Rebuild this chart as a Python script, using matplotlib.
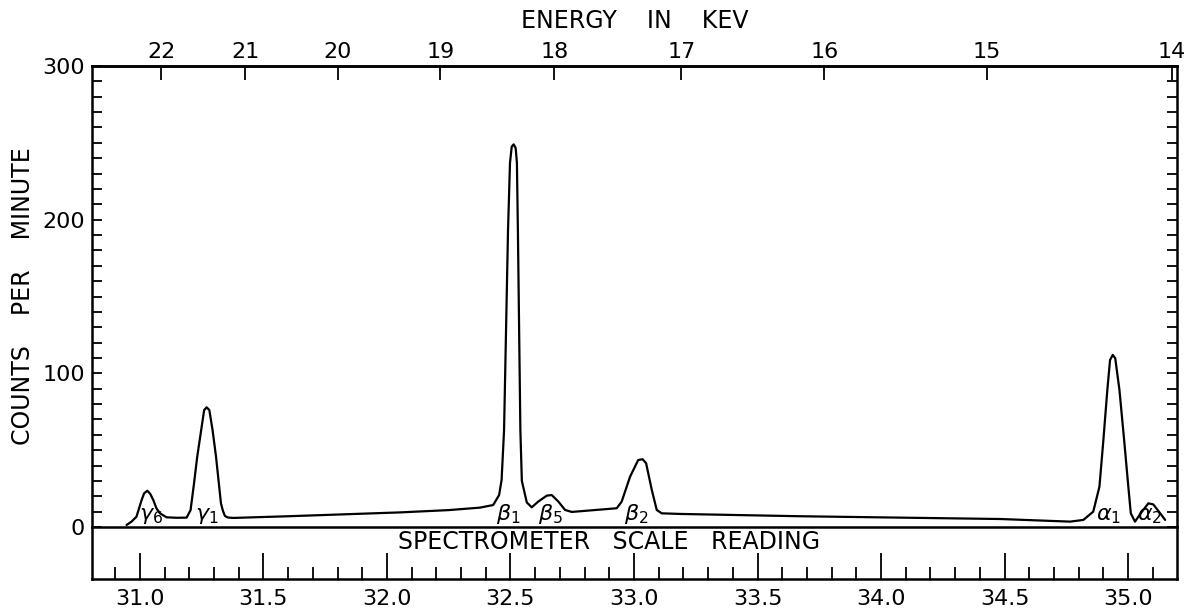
import numpy as np
import matplotlib
matplotlib.use("Agg")
import matplotlib.pyplot as plt
from matplotlib.ticker import MultipleLocator, FormatStrFormatter, NullLocator

# Spectrometer scale reading (abscissa) and counting rate along the traced curve
scale_reading = [
    30.946, 30.966, 30.986, 31.007, 31.017, 31.030, 31.042, 31.054, 31.067,
    31.081, 31.108, 31.150, 31.189, 31.205, 31.219, 31.232, 31.248, 31.260,
    31.270, 31.281, 31.294, 31.308, 31.318, 31.328, 31.336, 31.344, 31.355,
    31.378, 31.600, 32.053, 32.250, 32.376, 32.430, 32.454, 32.464, 32.474,
    32.482, 32.490, 32.498, 32.505, 32.513, 32.521, 32.526, 32.530, 32.535,
    32.540, 32.546, 32.566, 32.586, 32.612, 32.647, 32.667, 32.694, 32.721,
    32.748, 32.930, 32.950, 32.984, 33.017, 33.035, 33.049, 33.072, 33.092,
    33.112, 33.186, 33.672, 34.482, 34.765, 34.819, 34.859, 34.884, 34.900,
    34.916, 34.927, 34.938, 34.948, 34.965, 34.984, 35.001, 35.011, 35.028,
    35.051, 35.082, 35.102, 35.130, 35.150,
]
counts_per_minute = [
    1.3, 3.5, 6.7, 17.6, 21.9, 23.6, 21.5, 17.6, 12.1,
    8.9, 6.3, 6.0, 6.1, 11.0, 28.4, 45.8, 63.1, 76.1,
    77.9, 76.1, 63.1, 45.8, 30.6, 15.4, 10.5, 7.2, 6.2,
    5.9, 7.0, 9.5, 11.0, 12.6, 14.3, 20.8, 30.6, 63.0,
    128.0, 193.0, 237.0, 247.5, 249.0, 246.5, 237.0, 193.0, 128.0,
    63.0, 30.0, 16.0, 12.8, 16.5, 20.4, 20.8, 16.5, 11.1,
    9.8, 12.2, 16.5, 32.7, 43.6, 44.1, 41.5, 24.1, 11.1,
    8.9, 8.5, 7.0, 5.2, 3.5, 4.6, 10.0, 26.2, 56.6,
    89.2, 108.7, 112.0, 109.8, 89.2, 56.6, 26.2, 8.9, 3.5,
    8.9, 15.4, 14.7, 8.9, 4.6,
]

# Line identifications and where they sit along the scale
line_names = [r"$\gamma_6$", r"$\gamma_1$", r"$\beta_1$", r"$\beta_5$",
              r"$\beta_2$", r"$\alpha_1$", r"$\alpha_2$"]
line_positions = [31.045, 31.27, 32.49, 32.66, 33.01, 34.92, 35.085]

# Energy scale along the top (keV)
energy_ticks = [22, 21, 20, 19, 18, 17, 16, 15, 14]

# Calibration of scale reading against photon energy: reading = A + B / E
CAL_A = 23.927
CAL_B = 157.5


def reading_to_energy(s):
    s = np.asarray(s, dtype=float)
    with np.errstate(divide="ignore", invalid="ignore"):
        return CAL_B / (s - CAL_A)


def energy_to_reading(e):
    e = np.asarray(e, dtype=float)
    with np.errstate(divide="ignore", invalid="ignore"):
        return CAL_A + CAL_B / e


plt.rcParams["font.family"] = ["DejaVu Sans"]
plt.rcParams["mathtext.fontset"] = "dejavusans"

W, H = 1197, 611
fig = plt.figure(figsize=(W / 100, H / 100), dpi=100)

x_lo, x_hi = 30.806, 35.198
ax_left, ax_right = 92 / W, 1177 / W
main_bottom, main_top = 1 - 527 / H, 1 - 66 / H
box_bottom = 1 - 579 / H

box = fig.add_axes([ax_left, box_bottom, ax_right - ax_left, main_bottom - box_bottom])
ax = fig.add_axes([ax_left, main_bottom, ax_right - ax_left, main_top - main_bottom],
                  sharex=box)

lw_spine = 1.8
ink = "black"

ax.plot(scale_reading, counts_per_minute, color=ink, lw=1.6,
        solid_joinstyle="round", solid_capstyle="round")
ax.set_xlim(x_lo, x_hi)
ax.set_ylim(0, 300)

for sp in ax.spines.values():
    sp.set_linewidth(lw_spine)

ax.yaxis.set_major_locator(MultipleLocator(100))
ax.yaxis.set_minor_locator(MultipleLocator(10))
ax.tick_params(axis="y", which="both", direction="in", left=True, right=True,
               width=1.3, length=7, labelsize=16, pad=5)
ax.tick_params(axis="x", which="both", bottom=False, top=False,
               labelbottom=False, labeltop=False)
ax.set_ylabel("COUNTS    PER    MINUTE", fontsize=17, labelpad=5)

for name, pos in zip(line_names, line_positions):
    ax.text(pos, 0.5, name, fontsize=16, ha="center", va="bottom",
            style="italic")

# Energy axis along the top
top = ax.secondary_xaxis("top", functions=(reading_to_energy, energy_to_reading))
top.set_xticks(energy_ticks)
top.set_xticklabels([str(e) for e in energy_ticks])
top.xaxis.set_minor_locator(NullLocator())
top.tick_params(axis="x", direction="in", length=10, width=1.3,
                labelsize=16, pad=3)
top.spines["top"].set_linewidth(lw_spine)
top.set_xlabel("ENERGY    IN    KEV", fontsize=17, labelpad=10)

# Scale-reading box below the curve
box.patch.set_visible(False)
box.set_ylim(0, 1)
box.set_yticks([])
box.xaxis.set_major_locator(MultipleLocator(0.5))
box.xaxis.set_minor_locator(MultipleLocator(0.1))
box.xaxis.set_major_formatter(FormatStrFormatter("%.1f"))
box.tick_params(axis="x", which="both", direction="in", width=1.3,
                labelsize=16, pad=7, top=False)
box.tick_params(axis="x", which="major", length=19)
box.tick_params(axis="x", which="minor", length=9)
for sp in box.spines.values():
    sp.set_linewidth(lw_spine)
box.spines["top"].set_visible(False)
box.text(0.477, 0.72, "SPECTROMETER   SCALE   READING", transform=box.transAxes,
         ha="center", va="center", fontsize=17)

fig.savefig("out.png", dpi=100)
